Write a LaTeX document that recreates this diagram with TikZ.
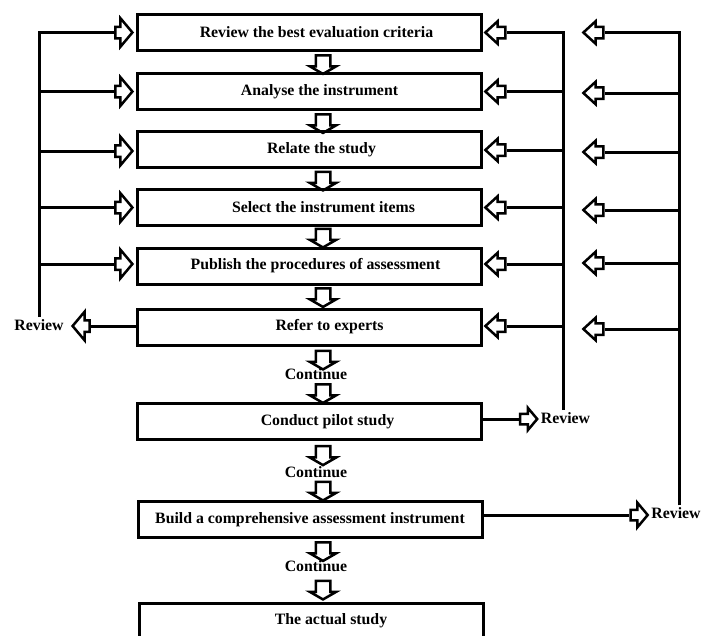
\documentclass[tikz,border=0pt]{standalone}
\usepackage{fontspec}
\setmainfont{Liberation Serif}
\usetikzlibrary{shapes.arrows}
\newcommand{\stepfont}{\bfseries\fontsize{15.8}{18}\selectfont}
\tikzset{
	stepbox/.style={draw, line width=3pt, minimum width=344pt, minimum height=36pt, inner sep=0pt, font=\stepfont},
	note/.style={inner sep=2pt, font=\stepfont},
	bus/.style={line width=3pt},
	downarr/.style={single arrow, draw, line width=2.5pt, shape border rotate=270, inner sep=6pt,
		single arrow head extend=6pt, single arrow tip angle=120, minimum height=#1},
	rarr/.style={single arrow, draw, line width=2.5pt, inner sep=4.5pt, minimum height=17pt,
		single arrow head extend=8.5pt, single arrow tip angle=100},
	larr/.style={single arrow, draw, line width=2.5pt, shape border rotate=180, inner sep=4.5pt,
		minimum height=20pt, single arrow head extend=5.5pt, single arrow tip angle=85},
}
\begin{document}
\begin{tikzpicture}[x=1pt,y=-1pt]
		\useasboundingbox (0,0) rectangle (701,635);
		% steps
		\node[stepbox] (b1) at (309.5,32.5) {\hspace*{14pt}Review the best evaluation criteria};
		\node[stepbox] (b2) at (309.5,91.5) {\hspace*{20pt}Analyse the instrument};
		\node[stepbox] (b3) at (309.5,149.5) {\hspace*{24pt}Relate the study};
		\node[stepbox] (b4) at (309.5,207.5) {\hspace*{28pt}Select the instrument items};
		\node[stepbox] (b5) at (309.5,266) {\hspace*{12pt}Publish the procedures of assessment};
		\node[stepbox] (b6) at (309.5,327) {\hspace*{40pt}Refer to experts};
		\node[stepbox] (b7) at (309.5,421.5) {\hspace*{36pt}Conduct pilot study};
		\node[stepbox] (b8) at (310,519.5) {Build a comprehensive assessment instrument};
		\node[stepbox] (b9) at (311,621) {\hspace*{40pt}The actual study};
		\node[note] (ct1) at (316,374) {Continue};
		\node[note] (ct2) at (316,472) {Continue};
		\node[note] (ct3) at (316,566) {Continue};
		% arrows down the middle
		\node[downarr=12pt] (d12) at (323,62.5) {};
		\node[downarr=12pt] (d23) at (323,121.5) {};
		\node[downarr=15pt] (d34) at (323,179) {};
		\node[downarr=13pt] (d45) at (323,236) {};
		\node[downarr=14pt] (d56) at (323,295.5) {};
		\node[downarr=15pt] (d6c) at (323,358) {};
		\node[downarr=14pt] (dc7) at (323,391.5) {};
		\node[downarr=19pt] (d7c) at (323,453.5) {};
		\node[downarr=13pt] (dc8) at (323,489) {};
		\node[downarr=12pt] (d8c) at (323,549.5) {};
		\node[downarr=18pt] (dc9) at (323,588) {};
		% left feedback
		\node[note] (rv1) at (39,325) {Review};
		\node[rarr] (aL1) at (121.5,32.5) {};
		\node[rarr] (aL2) at (121.5,91.5) {};
		\node[rarr] (aL3) at (121.5,151) {};
		\node[rarr] (aL4) at (121.5,207.5) {};
		\node[rarr] (aL5) at (121.5,264) {};
		\node[rarr,shape border rotate=180] (aW) at (83.5,326) {};
		\draw[bus] (rv1.north) -- (rv1.north |- aL1.tail) -- (aL1.tail);
		\draw[bus] (rv1.north |- aL2.tail) -- (aL2.tail);
		\draw[bus] (rv1.north |- aL3.tail) -- (aL3.tail);
		\draw[bus] (rv1.north |- aL4.tail) -- (aL4.tail);
		\draw[bus] (rv1.north |- aL5.tail) -- (aL5.tail);
		\draw[bus] (aW.tail -| b6.west) -- (aW.tail);
		% pilot study feedback
		\node[note] (rv2) at (565.5,418) {Review};
		\node[larr] (aM1) at (498.5,32.5) {};
		\node[larr] (aM2) at (498.5,91.5) {};
		\node[larr] (aM3) at (498.5,150) {};
		\node[larr] (aM4) at (498.5,207.5) {};
		\node[larr] (aM5) at (498.5,264) {};
		\node[larr] (aM6) at (498.5,326) {};
		\node[rarr,inner sep=4pt,single arrow head extend=6pt] (aP) at (526.5,419) {};
		\draw[bus] ([xshift=-2.5pt]rv2.north) -- ([xshift=-2.5pt]rv2.north |- aM1.tail) -- (aM1.tail);
		\draw[bus] ([xshift=-2.5pt]rv2.north |- aM2.tail) -- (aM2.tail);
		\draw[bus] ([xshift=-2.5pt]rv2.north |- aM3.tail) -- (aM3.tail);
		\draw[bus] ([xshift=-2.5pt]rv2.north |- aM4.tail) -- (aM4.tail);
		\draw[bus] ([xshift=-2.5pt]rv2.north |- aM5.tail) -- (aM5.tail);
		\draw[bus] ([xshift=-2.5pt]rv2.north |- aM6.tail) -- (aM6.tail);
		\draw[bus] (aP.tail -| b7.east) -- (aP.tail);
		% instrument feedback
		\node[note] (rv3) at (676,513) {Review};
		\node[larr] (aR1) at (596.5,32.5) {};
		\node[larr] (aR2) at (596.5,93) {};
		\node[larr] (aR3) at (596.5,152) {};
		\node[larr] (aR4) at (596.5,210) {};
		\node[larr] (aR5) at (596.5,263) {};
		\node[larr] (aR6) at (596.5,329) {};
		\node[rarr,inner sep=4pt,single arrow head extend=7pt] (aQ) at (637,515) {};
		\draw[bus] ([xshift=3pt]rv3.north) -- ([xshift=3pt]rv3.north |- aR1.tail) -- (aR1.tail);
		\draw[bus] ([xshift=3pt]rv3.north |- aR2.tail) -- (aR2.tail);
		\draw[bus] ([xshift=3pt]rv3.north |- aR3.tail) -- (aR3.tail);
		\draw[bus] ([xshift=3pt]rv3.north |- aR4.tail) -- (aR4.tail);
		\draw[bus] ([xshift=3pt]rv3.north |- aR5.tail) -- (aR5.tail);
		\draw[bus] ([xshift=3pt]rv3.north |- aR6.tail) -- (aR6.tail);
		\draw[bus] (aQ.tail -| b8.east) -- (aQ.tail);
	\end{tikzpicture}
\end{document}
